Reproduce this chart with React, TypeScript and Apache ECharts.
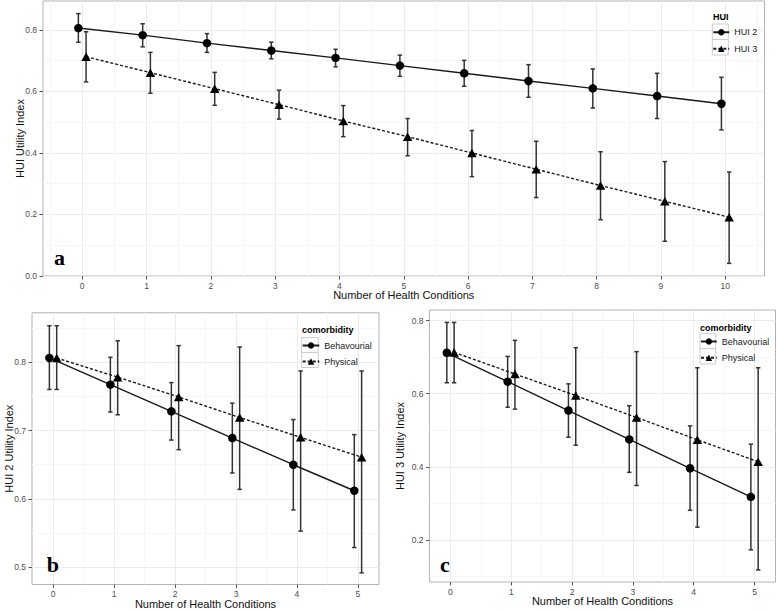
import React, { useEffect, useRef } from "react";
import * as echarts from "echarts";

const FONT = '"Liberation Sans", Arial, Helvetica, sans-serif';
const SERIF = '"Liberation Serif", "Times New Roman", serif';

// ---------- Panel a : HUI 2 / HUI 3 by number of conditions ----------
const conditionsA = [0, 1, 2, 3, 4, 5, 6, 7, 8, 9, 10];
const hui2Mean = [0.806, 0.783, 0.757, 0.733, 0.709, 0.684, 0.659, 0.634, 0.61, 0.585, 0.56];
const hui2Lower = [0.76, 0.745, 0.727, 0.706, 0.68, 0.649, 0.617, 0.581, 0.546, 0.512, 0.475];
const hui2Upper = [0.853, 0.82, 0.788, 0.76, 0.737, 0.718, 0.701, 0.687, 0.673, 0.659, 0.646];
const hui3Mean = [0.713, 0.661, 0.609, 0.557, 0.504, 0.453, 0.4, 0.347, 0.294, 0.243, 0.191];
const hui3Lower = [0.631, 0.594, 0.555, 0.51, 0.453, 0.391, 0.323, 0.255, 0.183, 0.113, 0.041];
const hui3Upper = [0.794, 0.727, 0.662, 0.604, 0.554, 0.512, 0.473, 0.438, 0.404, 0.372, 0.338];

// ---------- Panel b : HUI 2 by comorbidity type ----------
const conditionsBC = [0, 1, 2, 3, 4, 5];
const hui2BehMean = [0.806, 0.767, 0.728, 0.689, 0.65, 0.612];
const hui2BehLower = [0.76, 0.727, 0.686, 0.638, 0.584, 0.529];
const hui2BehUpper = [0.853, 0.807, 0.77, 0.74, 0.716, 0.694];
const hui2PhyMean = [0.806, 0.778, 0.749, 0.719, 0.69, 0.661];
const hui2PhyLower = [0.76, 0.723, 0.672, 0.614, 0.553, 0.492];
const hui2PhyUpper = [0.853, 0.831, 0.824, 0.822, 0.787, 0.787];

// ---------- Panel c : HUI 3 by comorbidity type ----------
const hui3BehMean = [0.712, 0.633, 0.554, 0.475, 0.396, 0.318];
const hui3BehLower = [0.63, 0.563, 0.481, 0.385, 0.281, 0.173];
const hui3BehUpper = [0.795, 0.702, 0.627, 0.567, 0.512, 0.462];
const hui3PhyMean = [0.713, 0.654, 0.595, 0.535, 0.474, 0.414];
const hui3PhyLower = [0.63, 0.558, 0.459, 0.349, 0.235, 0.118];
const hui3PhyUpper = [0.795, 0.746, 0.726, 0.715, 0.671, 0.671];

// ---------- Tick labels ----------
const xTicksA = [0, 1, 2, 3, 4, 5, 6, 7, 8, 9, 10];
const xMinorA = [-0.5, 0.5, 1.5, 2.5, 3.5, 4.5, 5.5, 6.5, 7.5, 8.5, 9.5, 10.5];
const yTicksA = [0, 0.2, 0.4, 0.6, 0.8];
const yMinorA = [0.1, 0.3, 0.5, 0.7];
const xTicksBC = [0, 1, 2, 3, 4, 5];
const xMinorBC = [0.5, 1.5, 2.5, 3.5, 4.5];
const yTicksB = [0.5, 0.6, 0.7, 0.8];
const yMinorB = [0.55, 0.65, 0.75, 0.85];
const yTicksC = [0.2, 0.4, 0.6, 0.8];
const yMinorC = [0.1, 0.3, 0.5, 0.7];

const huiLegend = ["HUI 2", "HUI 3"];
const comorbidityLegend = ["Behavourial", "Physical"];
const dodge = [-0.06, 0.06];

type Group = {
  name: string;
  x: number[];
  mean: number[];
  lower: number[];
  upper: number[];
  symbol: string;
  dash: boolean;
};

const errorBarRenderer = (_params: any, api: any) => {
  const x = api.value(0);
  const top = api.coord([x, api.value(2)]);
  const bottom = api.coord([x, api.value(1)]);
  const half = 2.2;
  const style = { stroke: "#333", lineWidth: 1.5 };
  return {
    type: "group",
    children: [
      { type: "line", shape: { x1: top[0], y1: top[1], x2: bottom[0], y2: bottom[1] }, style },
      { type: "line", shape: { x1: top[0] - half, y1: top[1], x2: top[0] + half, y2: top[1] }, style },
      { type: "line", shape: { x1: bottom[0] - half, y1: bottom[1], x2: bottom[0] + half, y2: bottom[1] }, style },
    ],
  };
};

function panelSeries(p: number, groups: Group[]) {
  const out: any[] = [];
  groups.forEach((g, gi) => {
    const off = dodge[gi];
    out.push({
      type: "custom",
      name: g.name + " 95% CI",
      xAxisIndex: p * 2,
      yAxisIndex: p * 2,
      silent: true,
      z: 2,
      encode: { x: 0, y: [1, 2] },
      data: g.x.map((c, i) => [c + off, g.lower[i], g.upper[i]]),
      renderItem: errorBarRenderer,
    });
  });
  groups.forEach((g, gi) => {
    const off = dodge[gi];
    out.push({
      type: "line",
      name: g.name,
      xAxisIndex: p * 2,
      yAxisIndex: p * 2,
      z: 3,
      symbol: g.symbol,
      symbolSize: g.symbol === "circle" ? 8.5 : [9.5, 8.5],
      showSymbol: true,
      itemStyle: { color: "#000" },
      lineStyle: { color: "#1a1a1a", width: 1.4, type: g.dash ? [3, 2] : "solid" },
      data: g.x.map((c, i) => [c + off, g.mean[i]]),
    });
  });
  return out;
}

function axesFor(
  p: number,
  xr: number[],
  yr: number[],
  xt: number[],
  xm: number[],
  yt: number[],
  ym: number[],
  yName: string,
  yGap: number
) {
  const label = { color: "#4d4d4d", fontSize: 8.5, fontFamily: FONT };
  const nameStyle = { color: "#111", fontSize: 11, fontFamily: FONT };
  const xAxes = [
    {
      type: "value",
      gridIndex: p,
      min: xr[0],
      max: xr[1],
      position: "bottom",
      axisLine: { show: false, onZero: false },
      axisTick: { show: true, length: 3.5, lineStyle: { color: "#555" }, customValues: xt },
      axisLabel: { ...label, margin: 5, customValues: xt, formatter: (v: number) => String(v) },
      splitLine: { show: true, lineStyle: { color: "#ebebeb", width: 1 } },
      name: "Number of Health Conditions",
      nameLocation: "middle",
      nameGap: 13.5,
      nameMoveOverlap: false,
      nameTextStyle: nameStyle,
    },
    {
      type: "value",
      gridIndex: p,
      min: xr[0],
      max: xr[1],
      position: "bottom",
      axisLine: { show: false, onZero: false },
      axisTick: { show: false, customValues: xm },
      axisLabel: { show: false, customValues: xm },
      splitLine: { show: true, lineStyle: { color: "#f6f6f6", width: 1 } },
    },
  ];
  const yAxes = [
    {
      type: "value",
      gridIndex: p,
      min: yr[0],
      max: yr[1],
      position: "left",
      axisLine: { show: false, onZero: false },
      axisTick: { show: true, length: 3.5, lineStyle: { color: "#555" }, customValues: yt },
      axisLabel: { ...label, margin: 6, customValues: yt, formatter: (v: number) => v.toFixed(1) },
      splitLine: { show: true, lineStyle: { color: "#ebebeb", width: 1 } },
      name: yName,
      nameLocation: "middle",
      nameGap: yGap,
      nameMoveOverlap: false,
      nameTextStyle: nameStyle,
    },
    {
      type: "value",
      gridIndex: p,
      min: yr[0],
      max: yr[1],
      position: "left",
      axisLine: { show: false, onZero: false },
      axisTick: { show: false, customValues: ym },
      axisLabel: { show: false, customValues: ym },
      splitLine: { show: true, lineStyle: { color: "#f6f6f6", width: 1 } },
    },
  ];
  return { xAxes, yAxes };
}

function legendFor(names: string[], left: number, top: number, w: number, gap: number) {
  return {
    data: names,
    orient: "vertical",
    left,
    top,
    padding: 0,
    itemWidth: w,
    itemHeight: 8,
    itemGap: gap,
    selectedMode: false,
    textStyle: { fontSize: 9, color: "#222", fontFamily: FONT },
  };
}

function keyBoxes(x: number, y: number, w: number, h: number) {
  return [0, 1].map((i) => ({
    type: "rect",
    shape: { x, y: y + i * h, width: w, height: h },
    style: { fill: "#fff", stroke: "#cccccc", lineWidth: 1 },
    z: 1,
    silent: true,
  }));
}

function textEl(text: string, x: number, y: number, font: string) {
  return {
    type: "text",
    x,
    y,
    silent: true,
    z: 10,
    style: { text, font, fill: "#000", align: "left", verticalAlign: "middle" },
  };
}

export default function App() {
  const ref = useRef<HTMLDivElement>(null);
  useEffect(() => {
    if (!ref.current) return;
    const chart = echarts.init(ref.current, null, { renderer: "svg" });

    const a = axesFor(0, [-0.61, 10.61], [0, 0.894], xTicksA, xMinorA, yTicksA, yMinorA, "HUI Utility Index", 18);
    const b = axesFor(1, [-0.345, 5.345], [0.475, 0.872], xTicksBC, xMinorBC, yTicksB, yMinorB, "HUI 2 Utility Index", 18);
    const c = axesFor(2, [-0.345, 5.345], [0.085, 0.829], xTicksBC, xMinorBC, yTicksC, yMinorC, "HUI 3 Utility Index", 24.5);

    const gridStyle = { show: true, borderColor: "#b3b3b3", borderWidth: 1, backgroundColor: "#fff" };

    const option: any = {
      animation: false,
      backgroundColor: "#fff",
      textStyle: { fontFamily: FONT },
      grid: [
        { left: 43, top: 1, width: 721.5, height: 275, ...gridStyle },
        { left: 32, top: 312.8, width: 347, height: 271.7, ...gridStyle },
        { left: 429.5, top: 310, width: 346, height: 272, ...gridStyle },
      ],
      xAxis: [...a.xAxes, ...b.xAxes, ...c.xAxes],
      yAxis: [...a.yAxes, ...b.yAxes, ...c.yAxes],
      legend: [
        legendFor(huiLegend, 712.3, 27.75, 16, 7.5),
        legendFor(comorbidityLegend, 301.7, 341, 16.6, 7),
        legendFor(comorbidityLegend, 700, 337, 15.7, 7.3),
      ],
      graphic: [
        ...keyBoxes(712.3, 24, 16, 15.5),
        ...keyBoxes(301.7, 337.5, 16.6, 15),
        ...keyBoxes(700, 333.3, 15.7, 15.3),
        textEl("HUI", 713, 17.3, `bold 9px ${FONT}`),
        textEl("comorbidity", 302, 330.3, `bold 9px ${FONT}`),
        textEl("comorbidity", 700, 327.7, `bold 9px ${FONT}`),
        textEl("a", 54, 257, `bold 22px ${SERIF}`),
        textEl("b", 46.7, 564, `bold 22px ${SERIF}`),
        textEl("c", 440, 564, `bold 22px ${SERIF}`),
      ],
      series: [
        ...panelSeries(0, [
          { name: "HUI 2", x: conditionsA, mean: hui2Mean, lower: hui2Lower, upper: hui2Upper, symbol: "circle", dash: false },
          { name: "HUI 3", x: conditionsA, mean: hui3Mean, lower: hui3Lower, upper: hui3Upper, symbol: "triangle", dash: true },
        ]),
        ...panelSeries(1, [
          { name: "Behavourial", x: conditionsBC, mean: hui2BehMean, lower: hui2BehLower, upper: hui2BehUpper, symbol: "circle", dash: false },
          { name: "Physical", x: conditionsBC, mean: hui2PhyMean, lower: hui2PhyLower, upper: hui2PhyUpper, symbol: "triangle", dash: true },
        ]),
        ...panelSeries(2, [
          { name: "Behavourial", x: conditionsBC, mean: hui3BehMean, lower: hui3BehLower, upper: hui3BehUpper, symbol: "circle", dash: false },
          { name: "Physical", x: conditionsBC, mean: hui3PhyMean, lower: hui3PhyLower, upper: hui3PhyUpper, symbol: "triangle", dash: true },
        ]),
      ],
    };
    chart.setOption(option);
    return () => chart.dispose();
  }, []);

  return (
    <div
      ref={ref}
      style={{ position: "absolute", left: 0, top: 0, width: 778, height: 610, background: "#fff" }}
    />
  );
}
